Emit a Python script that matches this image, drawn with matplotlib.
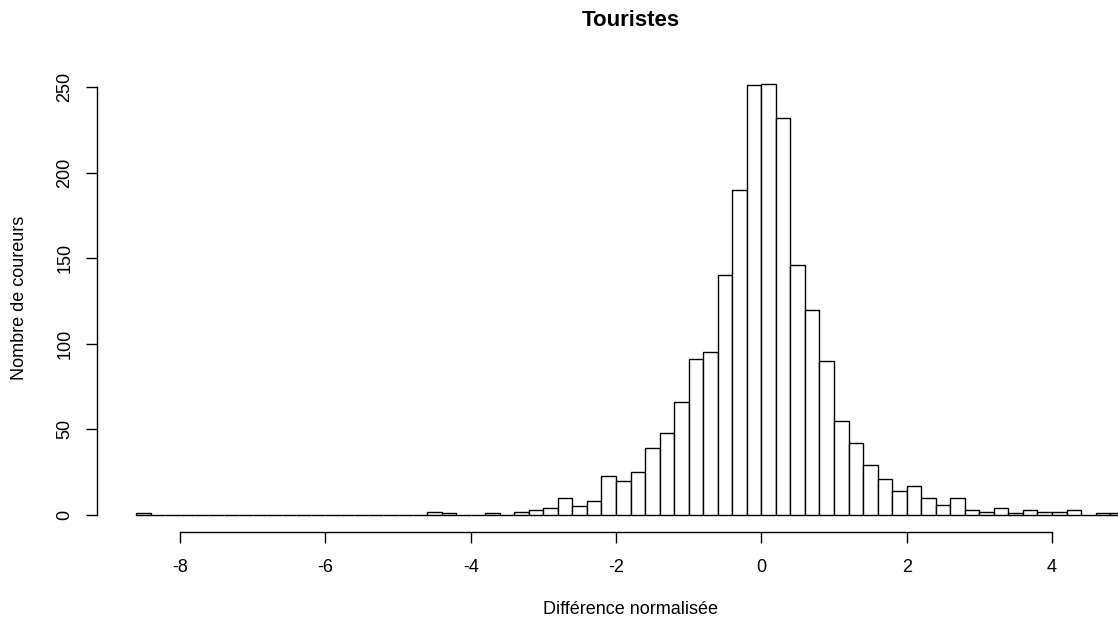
import matplotlib
matplotlib.use("Agg")
import matplotlib.pyplot as plt
import numpy as np

plt.rcParams['font.family'] = ['Liberation Sans', 'DejaVu Sans']

# Histogram bins (width 0.2) from -8.6 to 5.0
bin_start = -8.6
bin_width = 0.2
counts = [
    1, 0, 0, 0, 0, 0, 0, 0, 0, 0,          # -8.6 .. -6.6
    0, 0, 0, 0, 0, 0, 0, 0, 0, 0,          # -6.6 .. -4.6
    2, 1, 0, 0, 1, 0, 2, 3, 4, 10,         # -4.6 .. -2.6
    5, 8, 23, 20, 25, 39, 48, 66, 91, 95,  # -2.6 .. -0.6
    140, 190, 251, 252, 232, 146, 120, 90, 55, 42,  # -0.6 .. 1.4
    29, 21, 14, 17, 10, 6, 10, 3, 2, 4,    # 1.4 .. 3.4
    1, 3, 2, 2, 3, 0, 1, 1,                # 3.4 .. 5.0
]
x_ticks = [-8, -6, -4, -2, 0, 2, 4]
y_ticks = [0, 50, 100, 150, 200, 250]
title = "Touristes"
x_label = "Différence normalisée"
y_label = "Nombre de coureurs"

edges = bin_start + bin_width * np.arange(len(counts) + 1)

W, H = 1118, 620
fig = plt.figure(figsize=(W / 100, H / 100), dpi=100)
left_px, right_px = 96.9, 1118
top_px, bot_px = 66.3, 532.3
ax = fig.add_axes([left_px / W, 1 - bot_px / H, (right_px - left_px) / W, (bot_px - top_px) / H])

ax.bar(edges[:-1], counts, width=bin_width, align='edge', color='white',
       edgecolor='black', linewidth=1.0)

ax.set_xlim(-9.144, 4.908)
ax.set_ylim(-10.08, 262.08)

for s in ['top', 'right']:
    ax.spines[s].set_visible(False)
ax.spines['left'].set_bounds(0, 250)
ax.spines['bottom'].set_bounds(-8, 4)
ax.spines['left'].set_linewidth(1.0)
ax.spines['bottom'].set_linewidth(1.0)

ax.set_xticks(x_ticks)
ax.set_xticklabels([str(t) for t in x_ticks])
ax.set_yticks(y_ticks)
ax.set_yticklabels([str(t) for t in y_ticks], rotation=90, va='center')
ax.tick_params(axis='both', length=8, width=1.0, labelsize=13, color='black')
ax.tick_params(axis='x', pad=11)
ax.tick_params(axis='y', pad=9)

cx = 0.5 * (left_px + 1164) / W
fig.text(cx, 1 - 21 / H, title, ha='center', va='center',
         fontsize=16, fontweight='bold')
fig.text(cx, 1 - 610 / H, x_label, ha='center', va='center',
         fontsize=13)
fig.text(20 / W, 1 - 298 / H, y_label, ha='center', va='center', rotation=90,
         fontsize=13)

fig.savefig("out.png", dpi=100)
